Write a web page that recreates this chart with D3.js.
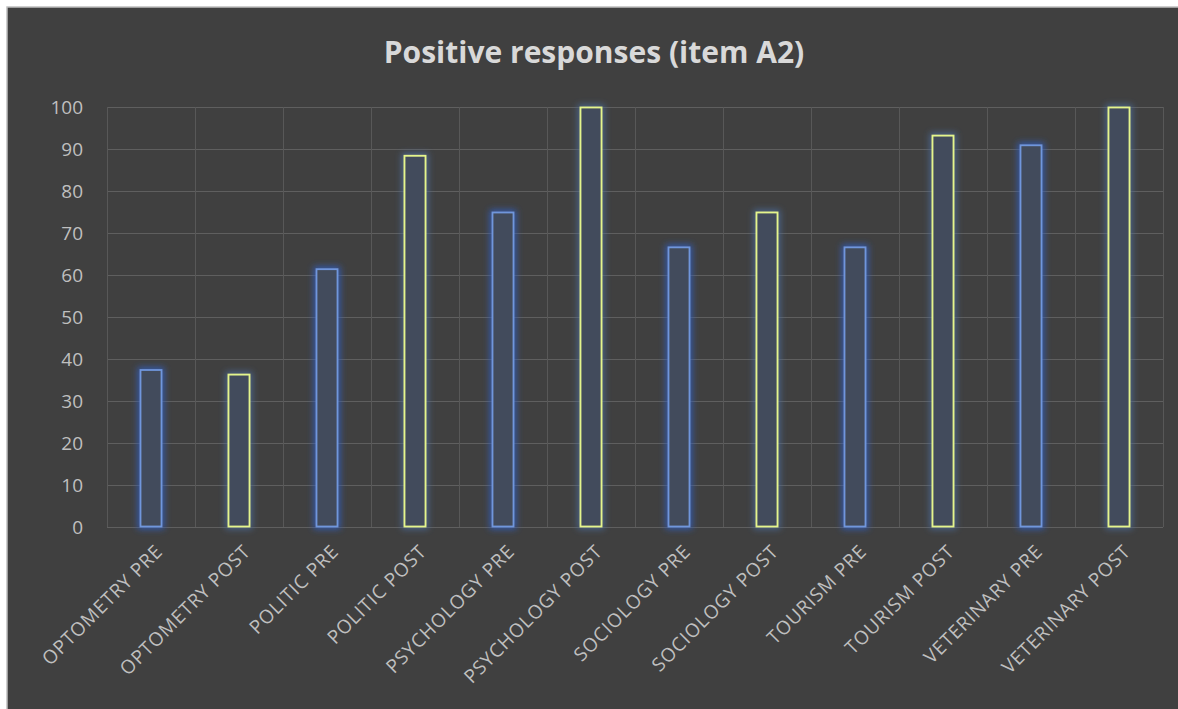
<!DOCTYPE html>
<html lang="en">
<head>
<meta charset="UTF-8">
<style>
    body {margin: 0; background: #ffffff;}
    text {font-family: "Open Sans", sans-serif;}
</style>
</head>
<body>
<div id="chart"></div>
<script src="https://d3js.org/d3.v7.min.js"></script>
<script>
// chart data
var categories = ["OPTOMETRY PRE", "OPTOMETRY POST", "POLITIC PRE", "POLITIC POST",
    "PSYCHOLOGY PRE", "PSYCHOLOGY POST", "SOCIOLOGY PRE", "SOCIOLOGY POST",
    "TOURISM PRE", "TOURISM POST", "VETERINARY PRE", "VETERINARY POST"];
var values = [37.5, 36.4, 61.5, 88.5, 75, 100, 66.7, 75, 66.7, 93.3, 91, 100];
var phase = ["pre", "post", "pre", "post", "pre", "post", "pre", "post", "pre", "post", "pre", "post"];
var yTicks = [0, 10, 20, 30, 40, 50, 60, 70, 80, 90, 100];

var W = 1178, H = 709;
var plotLeft = 107, plotRight = 1163, plotTop = 107, plotBottom = 527;

var svg = d3.select("#chart").append("svg")
    .attr("width", W).attr("height", H);

// glow filters
var defs = svg.append("defs");
function glow(id, color) {
    var f = defs.append("filter").attr("id", id)
        .attr("x", "-60%").attr("y", "-10%").attr("width", "220%").attr("height", "120%");
    f.append("feMorphology").attr("in", "SourceAlpha").attr("operator", "dilate").attr("radius", 2).attr("result", "d");
    f.append("feFlood").attr("flood-color", color).attr("flood-opacity", 0.8);
    f.append("feComposite").attr("in2", "d").attr("operator", "in");
    f.append("feGaussianBlur").attr("stdDeviation", 3).attr("result", "g");
    var m = f.append("feMerge");
    m.append("feMergeNode").attr("in", "g");
    m.append("feMergeNode").attr("in", "SourceGraphic");
}
glow("glowBlue", "#2f5fc0");
glow("glowYellow", "#4a6a9a");

// background (runs off the right and bottom edges)
svg.append("rect").attr("x", 7).attr("y", 7).attr("width", W + 10).attr("height", H + 10)
    .attr("fill", "#404040").attr("stroke", "#bfbfbf").attr("stroke-width", 1.5);

var x = d3.scaleBand().domain(categories).range([plotLeft, plotRight])
    .paddingInner(0.75).paddingOuter(0.375);
var y = d3.scaleLinear().domain([0, 100]).range([plotBottom, plotTop]);

// horizontal gridlines
svg.append("g").selectAll("line").data(yTicks).enter().append("line")
    .attr("x1", plotLeft).attr("x2", plotRight)
    .attr("y1", function(d) { return y(d) + 0.5; })
    .attr("y2", function(d) { return y(d) + 0.5; })
    .attr("stroke", "#5f5f5f").attr("stroke-width", 1);

// vertical gridlines at category edges
var half = (x.step() - x.bandwidth()) / 2;
var edges = categories.map(function(c) { return x(c) - half; });
edges.push(x(categories[categories.length - 1]) + x.bandwidth() + half);
svg.append("g").selectAll("line").data(edges).enter().append("line")
    .attr("x1", function(d) { return Math.round(d) + 0.5; })
    .attr("x2", function(d) { return Math.round(d) + 0.5; })
    .attr("y1", plotTop).attr("y2", plotBottom)
    .attr("stroke", "#585858").attr("stroke-width", 1);

// y axis labels
var yAxis = svg.append("g").attr("transform", "translate(" + plotLeft + ",0)")
    .call(d3.axisLeft(y).tickValues(yTicks).tickSize(0).tickPadding(24));
yAxis.select(".domain").remove();
yAxis.selectAll("text").attr("fill", "#bfbfbf").style("font-size", "19px");

// bars
svg.append("g").selectAll("rect").data(categories).enter().append("rect")
    .attr("x", function(d) { return x(d) + 0.5; })
    .attr("y", function(d, i) { return y(values[i]) + 0.5; })
    .attr("width", x.bandwidth() - 1)
    .attr("height", function(d, i) { return y(0) - y(values[i]) - 1; })
    .attr("fill", "#434b5c")
    .attr("stroke", function(d, i) { return phase[i] == "pre" ? "#6f96dc" : "#e4f58c"; })
    .attr("stroke-width", 1.8)
    .attr("filter", function(d, i) { return phase[i] == "pre" ? "url(#glowBlue)" : "url(#glowYellow)"; });

// x axis labels
var xAxis = svg.append("g").attr("transform", "translate(0," + plotBottom + ")")
    .call(d3.axisBottom(x).tickSize(0));
xAxis.select(".domain").remove();
xAxis.selectAll("text")
    .attr("fill", "#bfbfbf")
    .style("font-size", "19px")
    .style("letter-spacing", "0.8px")
    .style("text-anchor", "end")
    .attr("x", 0).attr("y", 0).attr("dy", "0.35em")
    .attr("transform", "translate(8,21) rotate(-45)");

// title
svg.append("text").attr("x", 594).attr("y", 63)
    .attr("text-anchor", "middle")
    .attr("fill", "#d9d9d9")
    .style("font-size", "30px").style("font-weight", "bold")
    .text("Positive responses (item A2)");
</script>
</body>
</html>
